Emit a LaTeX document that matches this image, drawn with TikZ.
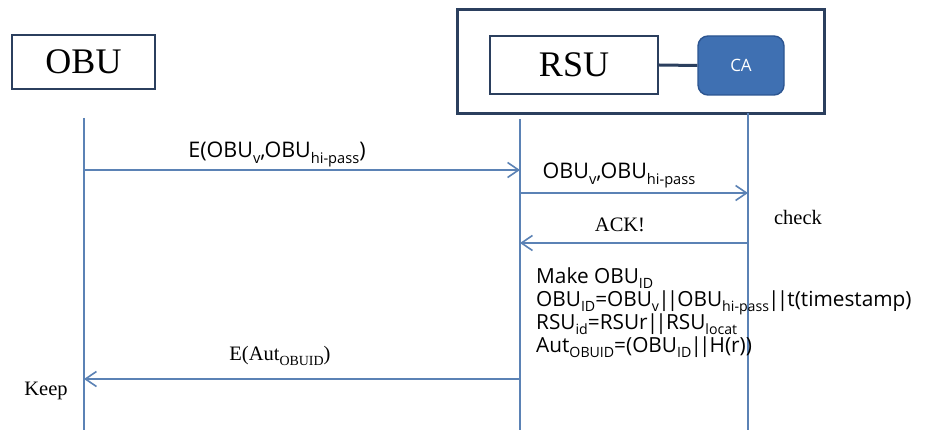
\documentclass[tikz,border=0pt]{standalone}
\usepackage{fontspec}
\setmainfont{Liberation Serif}
\newfontfamily\msgsans{Open Sans}
\usetikzlibrary{arrows.meta}
\definecolor{lifeblue}{HTML}{5B82B5}
\definecolor{framenavy}{HTML}{2B3F5E}
\definecolor{cafill}{HTML}{3F70B2}
\definecolor{caborder}{HTML}{2C5591}
% lowered, fairly large subscript
\newcommand{\lo}[1]{\raisebox{-0.25em}{\scalebox{0.68}{#1}}}
% tight concatenation bars
\newcommand{\cat}{\kern-0.04em|\kern-0.14em|\kern-0.04em}
\tikzset{
  unitbox/.style={draw=framenavy, line width=2.4pt, fill=white, font=\fontsize{36}{38}\selectfont, inner sep=0pt},
  groupframe/.style={draw=framenavy, line width=3pt, inner sep=0pt},
  cabox/.style={draw=caborder, line width=1.4pt, fill=cafill, rounded corners=10pt, text=white, font=\msgsans\fontsize{17}{19}\selectfont, inner sep=0pt},
  lifeline/.style={draw=lifeblue, line width=1.6pt},
  msg/.style={draw=lifeblue, line width=1.6pt, -{Straight Barb[length=11pt,width=15pt,line width=1.6pt]}},
  sanslbl/.style={font=\msgsans\fontsize{21.5}{24}\selectfont, inner sep=0pt, anchor=base},
  seriflbl/.style={font=\fontsize{20.5}{23}\selectfont, inner sep=0pt, anchor=base},
  calcline/.style={font=\msgsans\fontsize{20.8}{23}\selectfont, inner sep=0pt, anchor=base west},
}
\begin{document}
\begin{tikzpicture}[x=1pt,y=-1pt]
\useasboundingbox[fill=white] (0,0) rectangle (925,430);

% participants
\node[unitbox, minimum width=143pt, minimum height=54pt] (obu) at (83.5,62) {OBU};
\node[groupframe, minimum width=367pt, minimum height=104pt] (grp) at (640.5,62) {};
\node[unitbox, minimum width=168pt, minimum height=58pt] (rsu) at (574,65) {RSU};
\node[cabox, minimum width=86pt, minimum height=59pt] (ca) at (741,65.5) {CA};
\draw[draw=framenavy, line width=3pt] (rsu.east) -- (ca.west);

% lifelines
\coordinate (obuTop) at (84,118);
\coordinate (obuBot) at (84,430);
\coordinate (rsuTop) at (520,119);
\coordinate (rsuBot) at (520,430);
\coordinate (caTop) at (748,113);
\coordinate (caBot) at (748,430);
\draw[lifeline] (obuTop) -- (obuBot);
\draw[lifeline] (rsuTop) -- (rsuBot);
\draw[lifeline] (caTop) -- (caBot);

% message anchors on the lifelines
\coordinate (m1a) at (84,170);
\coordinate (m1b) at (520,170);
\coordinate (m2a) at (520,193);
\coordinate (m2b) at (748,193);
\coordinate (m3a) at (748,243);
\coordinate (m3b) at (520,243);
\coordinate (m4a) at (520,379);
\coordinate (m4b) at (84,379);

\draw[msg] (m1a) -- (m1b);
\draw[msg] (m2a) -- (m2b);
\draw[msg] (m3a) -- (m3b);
\draw[msg] (m4a) -- (m4b);

% message labels
\node[sanslbl] (l1) at (277,158) {E(OBU\lo{v},OBU\lo{hi-pass})};
\node[sanslbl] (l2) at (619,179) {OBU\lo{v},OBU\lo{hi-pass}};
\node[seriflbl] (l3) at (620,232) {ACK!};
\node[seriflbl] (chk) at (798,225) {check};
\node[seriflbl] (l4) at (280,360) {E(Aut\lo{OBUID})};
\node[seriflbl] (keep) at (46,395) {Keep};

% computation performed at the RSU
\node[calcline] (c1) at (536,283) {Make OBU\lo{ID}};
\node[calcline] (c2) at (536,306) {OBU\lo{ID}=OBU\lo{v}\cat OBU\lo{hi-pass}\cat t(timestamp)};
\node[calcline] (c3) at (536,329) {RSU\lo{id}=RSUr\cat RSU\lo{locat}};
\node[calcline] (c4) at (536,352) {Aut\lo{OBUID}=(OBU\lo{ID}\cat H(r))};
\end{tikzpicture}
\end{document}
